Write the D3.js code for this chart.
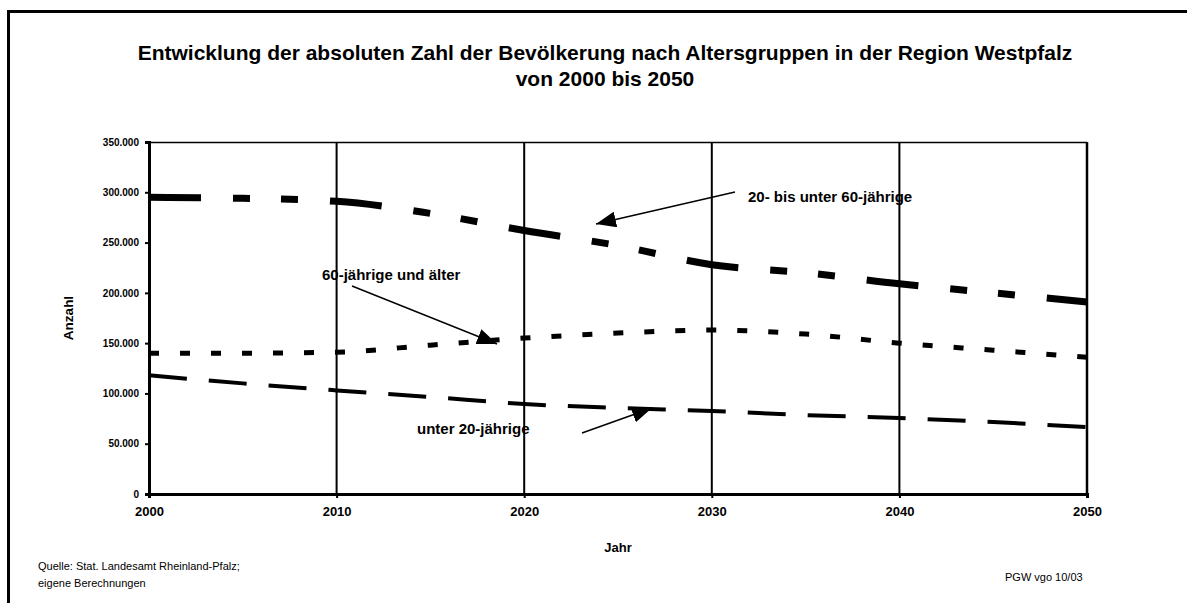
<!DOCTYPE html>
<html>
<head>
<meta charset="utf-8">
<script src="https://cdn.jsdelivr.net/npm/d3@7"></script>
<style>
  body { margin: 0; background: #fff; }
  text { font-family: "Liberation Sans", Arial, sans-serif; fill: #000; }
  .axis path, .axis line { stroke: #000; }
  .axis text { font-weight: bold; }
</style>
</head>
<body>
<div class="chart"></div>
<script>
var years = [2000, 2005, 2010, 2015, 2020, 2025, 2030, 2035, 2040, 2045, 2050];
var mittlere = [295000, 294000, 291000, 279000, 262000, 247000, 228000, 220000, 209000, 200000, 191000];
var aeltere = [140000, 140000, 141000, 148000, 155000, 160000, 163000, 159000, 150000, 143000, 136000];
var juengere = [118000, 110000, 103000, 96500, 89500, 85500, 82500, 78500, 75500, 71500, 66500];
var yTicks = [0, 50000, 100000, 150000, 200000, 250000, 300000, 350000];
var xTicks = [2000, 2010, 2020, 2030, 2040, 2050];

var svgWidth = 1187;
var svgHeight = 603;

var margin = { top: 142, right: 100, bottom: 109, left: 149 };
var width = 1087 - margin.left;
var height = 494 - margin.top;

var svg = d3.select(".chart")
  .append("svg")
  .attr("width", svgWidth)
  .attr("height", svgHeight);

// Rahmen
svg.append("rect")
  .attr("x", 8.5).attr("y", 11.5)
  .attr("width", 1300).attr("height", 700)
  .attr("fill", "none").attr("stroke", "#000").attr("stroke-width", 3);

var defs = svg.append("defs");
defs.append("marker")
  .attr("id", "pfeil")
  .attr("markerUnits", "userSpaceOnUse")
  .attr("viewBox", "0 0 20 16")
  .attr("refX", 20).attr("refY", 8)
  .attr("markerWidth", 20).attr("markerHeight", 16)
  .attr("orient", "auto")
  .append("path")
  .attr("d", "M0,0 L20,8 L0,16 Z")
  .attr("fill", "#000");

svg.append("text")
  .attr("x", 605).attr("y", 60)
  .attr("text-anchor", "middle")
  .style("font-size", "21px").style("font-weight", "bold")
  .text("Entwicklung der absoluten Zahl der Bevölkerung nach Altersgruppen in der Region Westpfalz");
svg.append("text")
  .attr("x", 605).attr("y", 86)
  .attr("text-anchor", "middle")
  .style("font-size", "21px").style("font-weight", "bold")
  .text("von 2000 bis 2050");

var chartGroup = svg.append("g")
  .attr("transform", `translate(${margin.left}, ${margin.top})`);

var x = d3.scaleLinear().domain([2000, 2050]).range([0, width]);
var y = d3.scaleLinear().domain([0, 350000]).range([height, 0]);

// Gitterlinien
chartGroup.selectAll(".grid")
  .data(xTicks.slice(1, -1))
  .enter()
  .append("line")
  .attr("x1", d => x(d)).attr("x2", d => x(d))
  .attr("y1", 0).attr("y2", height)
  .attr("stroke", "#000").attr("stroke-width", 2);

chartGroup.append("line")
  .attr("x1", 0).attr("x2", width).attr("y1", 0.5).attr("y2", 0.5)
  .attr("stroke", "#000").attr("stroke-width", 1.5);
chartGroup.append("line")
  .attr("x1", width).attr("x2", width).attr("y1", 0).attr("y2", height)
  .attr("stroke", "#000").attr("stroke-width", 2.5);

var fmt = d => d === 0 ? "0" : d3.format(",")(d).replace(/,/g, ".");

chartGroup.append("g")
  .attr("class", "axis")
  .call(d3.axisLeft(y).tickValues(yTicks).tickFormat(fmt).tickSize(4).tickPadding(6))
  .call(g => g.select(".domain").attr("stroke-width", 3))
  .call(g => g.selectAll("line").attr("stroke-width", 2))
  .call(g => g.selectAll("text").style("font-size", "10px"));

chartGroup.append("g")
  .attr("class", "axis")
  .attr("transform", `translate(0, ${height})`)
  .call(d3.axisBottom(x).tickValues(xTicks).tickFormat(d3.format("d")).tickSize(4).tickPadding(9))
  .call(g => g.select(".domain").attr("stroke-width", 3))
  .call(g => g.selectAll("line").attr("stroke-width", 2))
  .call(g => g.selectAll("text").style("font-size", "13px"));

var series = [
  { werte: mittlere, breite: 7, dash: "52,32,17,31,17,32" },
  { werte: aeltere, breite: 5, dash: "10,21" },
  { werte: juengere, breite: 4, dash: "38,22" }
];

var line = d3.line()
  .x(d => x(d[0]))
  .y(d => y(d[1]))
  .curve(d3.curveMonotoneX);

series.forEach(function(s) {
  chartGroup.append("path")
    .datum(years.map((yr, i) => [yr, s.werte[i]]))
    .attr("d", line)
    .attr("fill", "none")
    .attr("stroke", "#000")
    .attr("stroke-width", s.breite)
    .attr("stroke-dasharray", s.dash);
});

// Beschriftungen mit Pfeilen
var labels = [
  { text: "20- bis unter 60-jährige", tx: 748, ty: 202, from: [735, 192], to: [596, 224] },
  { text: "60-jährige und älter", tx: 322, ty: 280, from: [352, 286], to: [497, 344] },
  { text: "unter 20-jährige", tx: 417, ty: 434, from: [582, 433], to: [652, 408] }
];

labels.forEach(function(l) {
  svg.append("line")
    .attr("x1", l.from[0]).attr("y1", l.from[1])
    .attr("x2", l.to[0]).attr("y2", l.to[1])
    .attr("stroke", "#000").attr("stroke-width", 1.5)
    .attr("marker-end", "url(#pfeil)");
  svg.append("text")
    .attr("x", l.tx).attr("y", l.ty)
    .style("font-size", "15px").style("font-weight", "bold")
    .text(l.text);
});

svg.append("text")
  .attr("transform", `translate(73, ${margin.top + height / 2}) rotate(-90)`)
  .attr("text-anchor", "middle")
  .style("font-size", "13.5px").style("font-weight", "bold")
  .text("Anzahl");

svg.append("text")
  .attr("x", margin.left + width / 2).attr("y", 552)
  .attr("text-anchor", "middle")
  .style("font-size", "13px").style("font-weight", "bold")
  .text("Jahr");

svg.append("text")
  .attr("x", 38).attr("y", 570)
  .style("font-size", "11px")
  .text("Quelle: Stat. Landesamt Rheinland-Pfalz;");
svg.append("text")
  .attr("x", 38).attr("y", 587)
  .style("font-size", "11px")
  .text("eigene Berechnungen");
svg.append("text")
  .attr("x", 1005).attr("y", 581)
  .style("font-size", "11px")
  .text("PGW vgo 10/03");
</script>
</body>
</html>
